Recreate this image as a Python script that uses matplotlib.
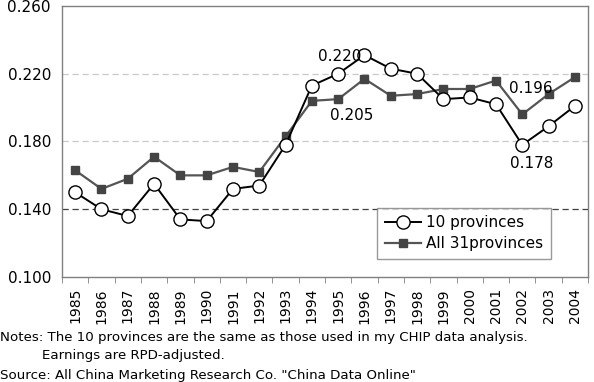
import numpy as np
from matplotlib import pyplot as plt

# Data
years = [str(y) for y in range(1985, 2005)]
ten_prov = [0.150, 0.140, 0.136, 0.155, 0.134, 0.133, 0.152, 0.154, 0.178, 0.213,
            0.220, 0.231, 0.223, 0.220, 0.205, 0.206, 0.202, 0.178, 0.189, 0.201]
all_prov = [0.163, 0.152, 0.158, 0.171, 0.160, 0.160, 0.165, 0.162, 0.183, 0.204,
            0.205, 0.217, 0.207, 0.208, 0.211, 0.211, 0.216, 0.196, 0.208, 0.218]
yticks = [0.100, 0.140, 0.180, 0.220, 0.260]

plt.rcParams['font.family'] = 'DejaVu Sans'
fig = plt.figure(figsize=(5.94, 3.82), dpi=100)
ax = fig.add_axes([0.1044, 0.2749, 0.8856, 0.7094])

x = np.arange(len(years))

# reference lines
ax.axhline(0.220, color='#c8c8c8', lw=0.9, ls=(0, (5, 3)), zorder=0)
ax.axhline(0.180, color='#c8c8c8', lw=0.9, ls=(0, (5, 3)), zorder=0)
ax.axhline(0.140, color='#404040', lw=0.9, ls=(0, (5, 3)), zorder=0)

ax.plot(x, all_prov, color='#555555', lw=1.6, marker='s', ms=6,
        mfc='#444444', mec='#444444', label='All 31provinces', zorder=2)
ax.plot(x, ten_prov, color='black', lw=1.4, marker='o', ms=9.5,
        mfc='white', mec='black', mew=1.0, label='10 provinces', zorder=3)

# value labels
ax.text(10.07, 0.2299, '0.220', fontsize=11, ha='center', va='center')
ax.text(10.5, 0.1956, '0.205', fontsize=11, ha='center', va='center')
ax.text(17.33, 0.2110, '0.196', fontsize=11, ha='center', va='center')
ax.text(17.37, 0.1673, '0.178', fontsize=11, ha='center', va='center')

ax.set_xlim(-0.5, len(years) - 0.5)
ax.set_ylim(0.100, 0.260)
ax.set_yticks(yticks)
ax.set_yticklabels(['%.3f' % v for v in yticks], fontsize=11)
ax.tick_params(axis='y', length=0, pad=8)

ax.set_xticks(x)
ax.set_xticklabels(years, rotation=90, fontsize=10)
ax.set_xticks(np.arange(len(years) + 1) - 0.5, minor=True)
ax.tick_params(axis='x', which='major', length=0, pad=8)
ax.tick_params(axis='x', which='minor', length=4, color='#808080', direction='out')

for s in ax.spines.values():
    s.set_color('#808080')
    s.set_linewidth(1.0)

h, l = ax.get_legend_handles_labels()
leg = ax.legend(h[::-1], l[::-1], loc='lower left', bbox_to_anchor=(0.599, 0.066),
                fontsize=11, frameon=True, fancybox=False, edgecolor='#808080',
                handlelength=2.4, borderpad=0.5, labelspacing=0.4, handletextpad=0.3,
                borderaxespad=0)
leg.get_frame().set_linewidth(1.0)

fig.text(0.0, 1 - 338 / 382,
         'Notes: The 10 provinces are the same as those used in my CHIP data analysis.',
         fontsize=9.6, va='center')
fig.text(42 / 594, 1 - 356 / 382, 'Earnings are RPD-adjusted.', fontsize=9.6, va='center')
fig.text(0.0, 1 - 375 / 382, 'Source: All China Marketing Research Co. "China Data Online"',
         fontsize=9.6, va='center')

fig.savefig('out.png', dpi=100)
